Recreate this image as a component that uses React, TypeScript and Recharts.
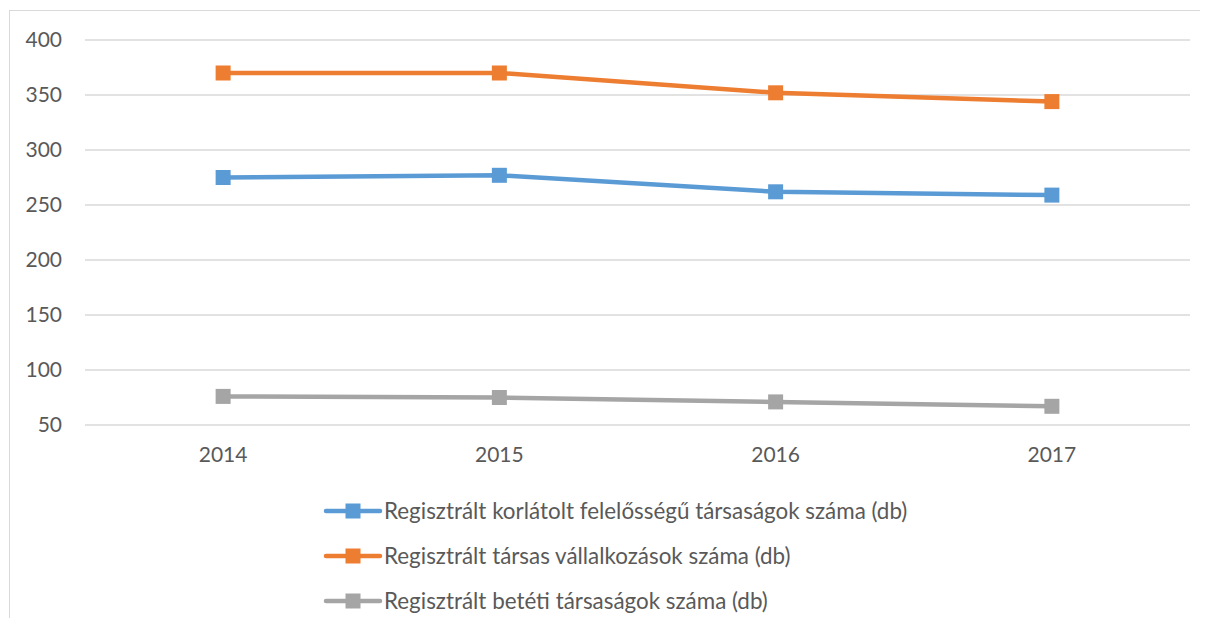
import React from "react";
import { LineChart, Line, XAxis, YAxis, CartesianGrid } from "recharts";

const years = ["2014", "2015", "2016", "2017"];
const kft = [275, 277, 262, 259];
const tarsas = [370, 370, 352, 344];
const bt = [76, 75, 71, 67];
const yTicks = [50, 100, 150, 200, 250, 300, 350, 400];

const series = [
  { key: "kft", name: "Regisztrált korlátolt felelősségű társaságok száma (db)", color: "#5B9BD5" },
  { key: "tarsas", name: "Regisztrált társas vállalkozások száma (db)", color: "#ED7D31" },
  { key: "bt", name: "Regisztrált betéti társaságok száma (db)", color: "#A5A5A5" },
];

const data = years.map((year, i) => ({
  year,
  kft: kft[i],
  tarsas: tarsas[i],
  bt: bt[i],
}));

const FONT = "Lato, 'Open Sans', sans-serif";

const Square = (props: any) => {
  const { cx, cy, stroke } = props;
  if (cx == null || cy == null) return null;
  return <rect x={cx - 7.5} y={cy - 7.5} width={15} height={15} fill={stroke} />;
};

const LegendBox = () => (
  <div style={{ position: "absolute", left: 323, top: 488, fontFamily: FONT, fontSize: 22.4, color: "#595959" }}>
    {series.map((s) => (
      <div key={s.key} style={{ display: "flex", alignItems: "center", height: 45 }}>
        <svg width={60} height={16} style={{ marginRight: 1 }}>
          <line x1={3} y1={8} x2={57} y2={8} stroke={s.color} strokeWidth={4.5} strokeLinecap="round" />
          <rect x={22.5} y={0.5} width={15} height={15} fill={s.color} />
        </svg>
        <span>{s.name}</span>
      </div>
    ))}
  </div>
);

export default function App() {
  return (
    <div style={{ margin: -8, position: "relative", width: 1208, height: 626, background: "#fff", overflow: "hidden" }}>
      <div
        style={{
          position: "absolute",
          left: 9,
          top: 10,
          width: 1220,
          height: 640,
          border: "1.5px solid #d9d9d9",
          boxSizing: "border-box",
        }}
      />
      <LineChart
        width={1208}
        height={480}
        data={data}
        margin={{ top: 40, right: 18, bottom: 25, left: 0 }}
        style={{ position: "absolute", left: 0, top: 0 }}
      >
        <CartesianGrid vertical={false} stroke="#d9d9d9" strokeWidth={1.5} />
        <XAxis
          dataKey="year"
          scale="band"
          axisLine={false}
          tickLine={false}
          tickMargin={16}
          height={30}
          tick={{ fill: "#595959", fontSize: 21, fontFamily: FONT }}
        />
        <YAxis
          domain={[50, 400]}
          ticks={yTicks}
          width={85}
          axisLine={false}
          tickLine={false}
          tickMargin={17}
          tick={{ fill: "#595959", fontSize: 21, fontFamily: FONT }}
        />
        {series.map((s) => (
          <Line
            key={s.key}
            dataKey={s.key}
            name={s.name}
            stroke={s.color}
            strokeWidth={4.5}
            dot={<Square />}
            activeDot={false}
            isAnimationActive={false}
          />
        ))}
      </LineChart>
      <LegendBox />
    </div>
  );
}
